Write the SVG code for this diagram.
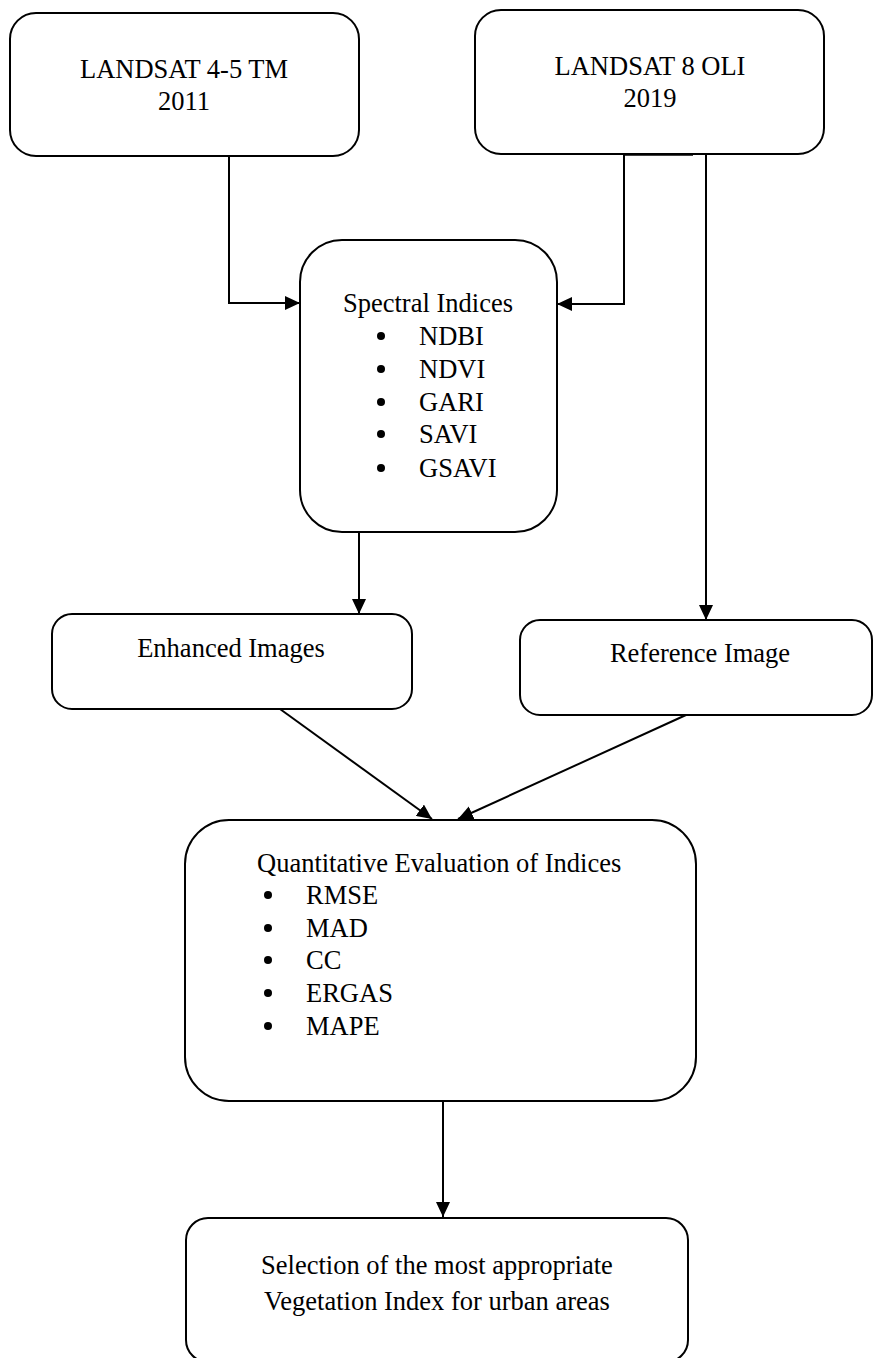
<svg xmlns="http://www.w3.org/2000/svg" width="875" height="1358" viewBox="0 0 875 1358">
<defs>
<style>
.box{fill:#fff;stroke:#000;stroke-width:2}
.t{font-family:"Liberation Serif","Times New Roman",serif;font-size:26.5px;fill:#000}
.c{text-anchor:middle}
.ln{fill:none;stroke:#000;stroke-width:2}
.thick{stroke:#000;stroke-width:3.5}
</style>
<marker id="ah" markerUnits="userSpaceOnUse" markerWidth="16" markerHeight="14" refX="15" refY="7" orient="auto">
<path d="M0,0 L15,7 L0,14 z" fill="#000"/>
</marker>
</defs>
<rect width="875" height="1358" fill="#fff"/>
<g id="connectors">
<line class="thick" x1="158" y1="155" x2="230" y2="155"/>
<line class="thick" x1="624" y1="154" x2="693" y2="154"/>
<polyline class="ln" points="229,156 229,303 300,303" marker-end="url(#ah)"/>
<polyline class="ln" points="624,155 624,304 557,304" marker-end="url(#ah)"/>
<line class="ln" x1="706" y1="155" x2="706" y2="620" marker-end="url(#ah)"/>
<line class="ln" x1="359" y1="533" x2="359" y2="614" marker-end="url(#ah)"/>
<line class="ln" x1="280" y1="709" x2="432" y2="819" marker-end="url(#ah)"/>
<line class="ln" x1="686" y1="715" x2="458" y2="819" marker-end="url(#ah)"/>
<line class="ln" x1="443" y1="1101" x2="443" y2="1217" marker-end="url(#ah)"/>
</g>
<g id="landsat45">
<rect class="box" x="10" y="13" width="349" height="143" rx="26" ry="26"/>
<text class="t c" x="184" y="78">LANDSAT 4-5 TM</text>
<text class="t c" x="184" y="110">2011</text>
</g>
<g id="landsat8">
<rect class="box" x="475" y="10" width="349" height="144" rx="26" ry="26"/>
<text class="t c" x="650" y="75">LANDSAT 8 OLI</text>
<text class="t c" x="650" y="107">2019</text>
</g>
<g id="spectral">
<rect class="box" x="300" y="240" width="257" height="292" rx="42" ry="42"/>
<text class="t c" x="428" y="312">Spectral Indices</text>
<g>
<circle cx="381" cy="336" r="4"/><text class="t" x="419" y="345">NDBI</text>
<circle cx="381" cy="369" r="4"/><text class="t" x="419" y="378">NDVI</text>
<circle cx="381" cy="402" r="4"/><text class="t" x="419" y="411">GARI</text>
<circle cx="381" cy="434" r="4"/><text class="t" x="419" y="443">SAVI</text>
<circle cx="381" cy="468" r="4"/><text class="t" x="419" y="477">GSAVI</text>
</g>
</g>
<g id="enhanced">
<rect class="box" x="52" y="614" width="360" height="95" rx="20" ry="20"/>
<text class="t c" x="231" y="657">Enhanced Images</text>
</g>
<g id="reference">
<rect class="box" x="520" y="620" width="352" height="95" rx="20" ry="20"/>
<text class="t c" x="700" y="662">Reference Image</text>
</g>
<g id="quantitative">
<rect class="box" x="185" y="820" width="511" height="281" rx="44" ry="44"/>
<text class="t" x="257" y="872">Quantitative Evaluation of Indices</text>
<g>
<circle cx="268" cy="895" r="4"/><text class="t" x="306" y="904">RMSE</text>
<circle cx="268" cy="928" r="4"/><text class="t" x="306" y="937">MAD</text>
<circle cx="268" cy="960" r="4"/><text class="t" x="306" y="969">CC</text>
<circle cx="268" cy="993" r="4"/><text class="t" x="306" y="1002">ERGAS</text>
<circle cx="268" cy="1026" r="4"/><text class="t" x="306" y="1035">MAPE</text>
</g>
</g>
<g id="selection">
<rect class="box" x="186" y="1218" width="502" height="144" rx="22" ry="22"/>
<text class="t c" x="437" y="1274">Selection of the most appropriate</text>
<text class="t c" x="437" y="1310">Vegetation Index for urban areas</text>
</g>
</svg>
